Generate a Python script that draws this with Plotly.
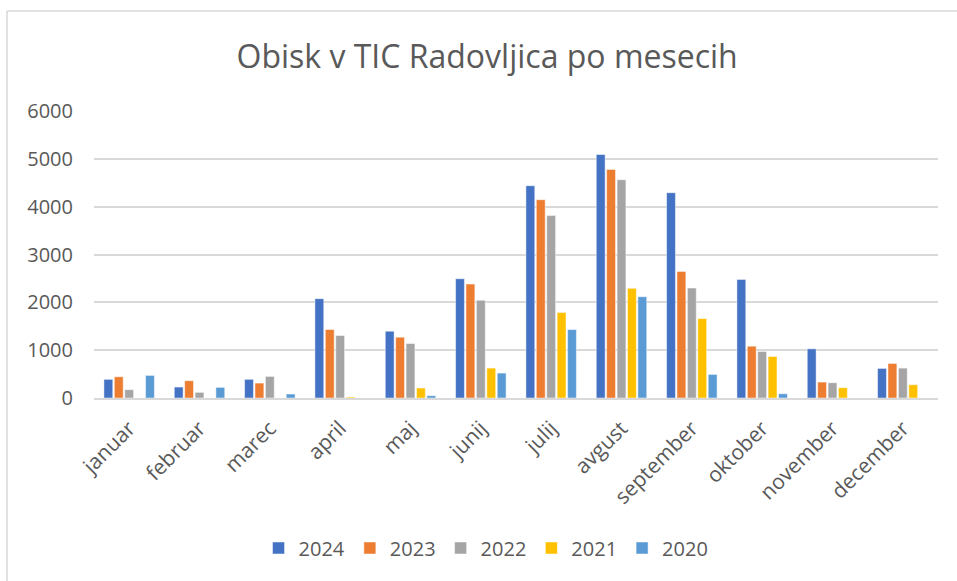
import plotly.graph_objects as go

months = ["januar", "februar", "marec", "april", "maj", "junij", "julij",
          "avgust", "september", "oktober", "november", "december"]
years = ["2024", "2023", "2022", "2021", "2020"]
v2024 = [390, 229, 390, 2077, 1396, 2493, 4438, 5090, 4292, 2479, 1028, 618]
v2023 = [444, 361, 312, 1431, 1271, 2382, 4146, 4778, 2646, 1083, 333, 723]
v2022 = [174, 118, 451, 1306, 1139, 2042, 3813, 4563, 2299, 972, 319, 625]
v2021 = [0, 0, 0, 20, 208, 625, 1785, 2292, 1660, 868, 215, 277]
v2020 = [472, 222, 83, 0, 48, 521, 1431, 2118, 493, 89, 0, 0]
series = [v2024, v2023, v2022, v2021, v2020]
colors = ["#4472C4", "#ED7D31", "#A5A5A5", "#FFC000", "#5B9BD5"]

fig = go.Figure()
for name, vals, c in zip(years, series, colors):
    fig.add_trace(go.Bar(x=months, y=vals, name=name, marker_color=c,
                         marker_line_color="rgba(255,255,255,0.6)", marker_line_width=0.8))

font = "Open Sans, Noto Sans, sans-serif"
fig.update_layout(
    width=957, height=581,
    paper_bgcolor="white", plot_bgcolor="white",
    margin=dict(l=94, r=19, t=111, b=183),
    barmode="group", bargap=0.26, bargroupgap=0.15,
    title=dict(text="Obisk v TIC Radovljica po mesecih", x=0.509, xanchor="center",
               y=0.902, yanchor="middle",
               font=dict(family=font, size=32, color="#595959")),
    font=dict(family=font, color="#595959"),
    xaxis=dict(tickangle=-45, tickfont=dict(size=21, color="#595959"),
               showline=True, linecolor="#D9D9D9", linewidth=1.5, ticks="",
               showgrid=False, ticklabelstandoff=8),
    yaxis=dict(range=[0, 6000], dtick=1000, tickfont=dict(size=20, color="#595959"),
               gridcolor="#D9D9D9", gridwidth=1.5, zeroline=False, ticks="",
               showline=False, ticklabelstandoff=20),
    legend=dict(orientation="h", x=0.4645, xanchor="center", y=-0.5226, yanchor="middle",
                font=dict(size=20, color="#595959"), itemwidth=30,
                traceorder="normal"),
    shapes=[
        dict(type="line", xref="paper", yref="paper", x0=-0.1031, x1=1.05, y0=1.3484, y1=1.3484,
             line=dict(color="#D9D9D9", width=1.5)),
        dict(type="line", xref="paper", yref="paper", x0=-0.1031, x1=-0.1031, y0=-0.7, y1=1.3484,
             line=dict(color="#D9D9D9", width=1.5)),
    ],
)
fig.write_html("out.html", config={"displayModeBar": False},
               post_script="document.body.style.margin='0';")
